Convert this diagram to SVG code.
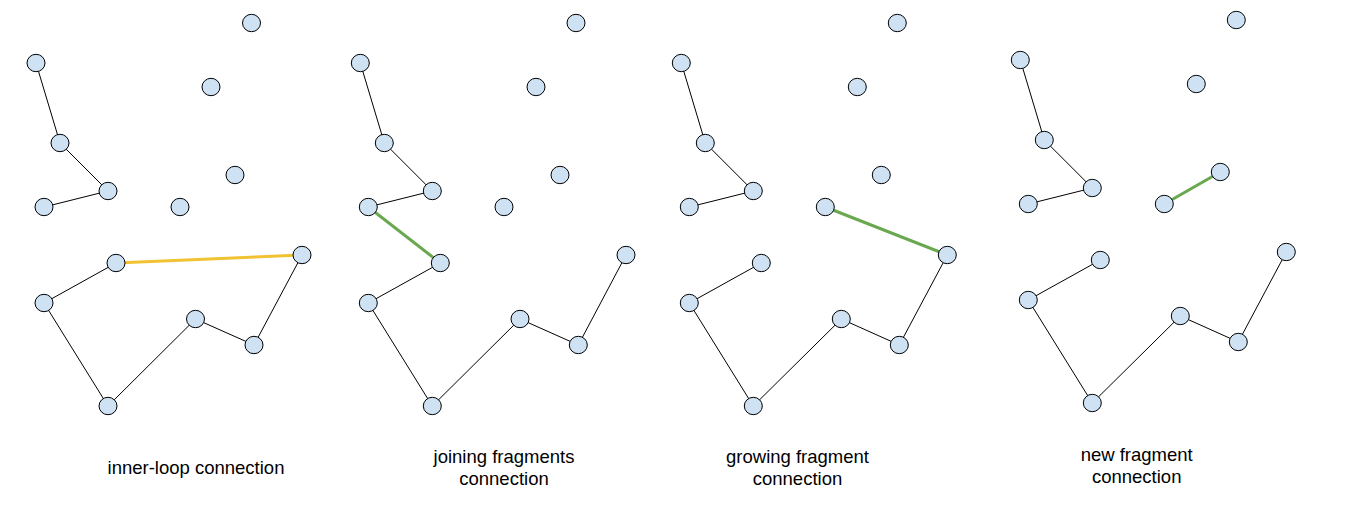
<svg xmlns="http://www.w3.org/2000/svg" width="1354" height="519" viewBox="0 0 1354 519">
<style>
.n{fill:#cfe2f3;stroke:#000;stroke-width:1}
.e{stroke:#000;stroke-width:1;fill:none}
.y{stroke:#f1c232;stroke-width:3;fill:none}
.g{stroke:#6aa84f;stroke-width:3;fill:none}
.t{font-family:"Liberation Sans",Arial,sans-serif;font-size:18.5px;fill:#000;text-anchor:middle}
</style>
<rect width="1354" height="519" fill="#fff"/>
<g id="connectors">
<!-- panel 1 -->
<line class="e" x1="36" y1="63" x2="60" y2="143"/>
<line class="e" x1="60" y1="143" x2="108" y2="191"/>
<line class="e" x1="108" y1="191" x2="44" y2="207"/>
<line class="e" x1="116" y1="263" x2="44" y2="303"/>
<line class="e" x1="44" y1="303" x2="108" y2="406"/>
<line class="e" x1="108" y1="406" x2="195.5" y2="319"/>
<line class="e" x1="195.5" y1="319" x2="254" y2="345"/>
<line class="e" x1="254" y1="345" x2="302" y2="255"/>
<line class="y" x1="116" y1="263" x2="302" y2="255"/>
<!-- panel 2 -->
<line class="e" x1="360.3" y1="63" x2="384.3" y2="143"/>
<line class="e" x1="384.3" y1="143" x2="432.3" y2="191"/>
<line class="e" x1="432.3" y1="191" x2="368.3" y2="207"/>
<line class="e" x1="440.3" y1="263" x2="368.3" y2="303"/>
<line class="e" x1="368.3" y1="303" x2="432.3" y2="406"/>
<line class="e" x1="432.3" y1="406" x2="520" y2="319"/>
<line class="e" x1="520" y1="319" x2="578.3" y2="345"/>
<line class="e" x1="578.3" y1="345" x2="626" y2="255"/>
<line class="g" x1="368.3" y1="207" x2="440.3" y2="263"/>
<!-- panel 3 -->
<line class="e" x1="681.3" y1="63" x2="705.3" y2="143"/>
<line class="e" x1="705.3" y1="143" x2="753.3" y2="191"/>
<line class="e" x1="753.3" y1="191" x2="689.3" y2="207"/>
<line class="e" x1="761.3" y1="263" x2="689.3" y2="303"/>
<line class="e" x1="689.3" y1="303" x2="753.3" y2="406"/>
<line class="e" x1="753.3" y1="406" x2="841.3" y2="319"/>
<line class="e" x1="841.3" y1="319" x2="899.3" y2="345"/>
<line class="e" x1="899.3" y1="345" x2="947.3" y2="255"/>
<line class="g" x1="825.3" y1="207" x2="947.3" y2="255"/>
<!-- panel 4 -->
<line class="e" x1="1020.3" y1="60" x2="1044.3" y2="140"/>
<line class="e" x1="1044.3" y1="140" x2="1092.3" y2="188"/>
<line class="e" x1="1092.3" y1="188" x2="1028.3" y2="204"/>
<line class="e" x1="1100.3" y1="260" x2="1028.3" y2="300"/>
<line class="e" x1="1028.3" y1="300" x2="1092.3" y2="403"/>
<line class="e" x1="1092.3" y1="403" x2="1180.3" y2="316"/>
<line class="e" x1="1180.3" y1="316" x2="1238.3" y2="342"/>
<line class="e" x1="1238.3" y1="342" x2="1286.3" y2="252"/>
<line class="g" x1="1164.3" y1="204" x2="1220.3" y2="172"/>
</g>
<!-- panel 1 nodes -->
<g id="p1-a"><ellipse class="n" cx="251.5" cy="23" rx="9" ry="8.7"/></g>
<g id="p1-b"><ellipse class="n" cx="36" cy="63" rx="9" ry="8.7"/></g>
<g id="p1-c"><ellipse class="n" cx="211" cy="87" rx="9" ry="8.7"/></g>
<g id="p1-d"><ellipse class="n" cx="60" cy="143" rx="9" ry="8.7"/></g>
<g id="p1-e"><ellipse class="n" cx="235" cy="175" rx="9" ry="8.7"/></g>
<g id="p1-f"><ellipse class="n" cx="108" cy="191" rx="9" ry="8.7"/></g>
<g id="p1-g"><ellipse class="n" cx="44" cy="207" rx="9" ry="8.7"/></g>
<g id="p1-h"><ellipse class="n" cx="180" cy="207" rx="9" ry="8.7"/></g>
<g id="p1-i"><ellipse class="n" cx="116" cy="263" rx="9" ry="8.7"/></g>
<g id="p1-j"><ellipse class="n" cx="302" cy="255" rx="9" ry="8.7"/></g>
<g id="p1-k"><ellipse class="n" cx="44" cy="303" rx="9" ry="8.7"/></g>
<g id="p1-l"><ellipse class="n" cx="195.5" cy="319" rx="9" ry="8.7"/></g>
<g id="p1-m"><ellipse class="n" cx="254" cy="345" rx="9" ry="8.7"/></g>
<g id="p1-n"><ellipse class="n" cx="108" cy="406" rx="9" ry="8.7"/></g>
<g id="p1-label"><text class="t" x="196" y="474">inner-loop connection</text></g>
<!-- panel 2 nodes -->
<g id="p2-a"><ellipse class="n" cx="576" cy="23" rx="9" ry="8.7"/></g>
<g id="p2-b"><ellipse class="n" cx="360.3" cy="63" rx="9" ry="8.7"/></g>
<g id="p2-c"><ellipse class="n" cx="536" cy="87" rx="9" ry="8.7"/></g>
<g id="p2-d"><ellipse class="n" cx="384.3" cy="143" rx="9" ry="8.7"/></g>
<g id="p2-e"><ellipse class="n" cx="560" cy="175" rx="9" ry="8.7"/></g>
<g id="p2-f"><ellipse class="n" cx="432.3" cy="191" rx="9" ry="8.7"/></g>
<g id="p2-g"><ellipse class="n" cx="368.3" cy="207" rx="9" ry="8.7"/></g>
<g id="p2-h"><ellipse class="n" cx="504" cy="207" rx="9" ry="8.7"/></g>
<g id="p2-i"><ellipse class="n" cx="440.3" cy="263" rx="9" ry="8.7"/></g>
<g id="p2-j"><ellipse class="n" cx="626" cy="255" rx="9" ry="8.7"/></g>
<g id="p2-k"><ellipse class="n" cx="368.3" cy="303" rx="9" ry="8.7"/></g>
<g id="p2-l"><ellipse class="n" cx="520" cy="319" rx="9" ry="8.7"/></g>
<g id="p2-m"><ellipse class="n" cx="578.3" cy="345" rx="9" ry="8.7"/></g>
<g id="p2-n"><ellipse class="n" cx="432.3" cy="406" rx="9" ry="8.7"/></g>
<g id="p2-label"><text class="t" x="504" y="463">joining fragments</text><text class="t" x="504" y="485">connection</text></g>
<!-- panel 3 nodes -->
<g id="p3-a"><ellipse class="n" cx="897.3" cy="23" rx="9" ry="8.7"/></g>
<g id="p3-b"><ellipse class="n" cx="681.3" cy="63" rx="9" ry="8.7"/></g>
<g id="p3-c"><ellipse class="n" cx="857.3" cy="87" rx="9" ry="8.7"/></g>
<g id="p3-d"><ellipse class="n" cx="705.3" cy="143" rx="9" ry="8.7"/></g>
<g id="p3-e"><ellipse class="n" cx="881.3" cy="175" rx="9" ry="8.7"/></g>
<g id="p3-f"><ellipse class="n" cx="753.3" cy="191" rx="9" ry="8.7"/></g>
<g id="p3-g"><ellipse class="n" cx="689.3" cy="207" rx="9" ry="8.7"/></g>
<g id="p3-h"><ellipse class="n" cx="825.3" cy="207" rx="9" ry="8.7"/></g>
<g id="p3-i"><ellipse class="n" cx="761.3" cy="263" rx="9" ry="8.7"/></g>
<g id="p3-j"><ellipse class="n" cx="947.3" cy="255" rx="9" ry="8.7"/></g>
<g id="p3-k"><ellipse class="n" cx="689.3" cy="303" rx="9" ry="8.7"/></g>
<g id="p3-l"><ellipse class="n" cx="841.3" cy="319" rx="9" ry="8.7"/></g>
<g id="p3-m"><ellipse class="n" cx="899.3" cy="345" rx="9" ry="8.7"/></g>
<g id="p3-n"><ellipse class="n" cx="753.3" cy="406" rx="9" ry="8.7"/></g>
<g id="p3-label"><text class="t" x="797.5" y="463">growing fragment</text><text class="t" x="797.5" y="485">connection</text></g>
<!-- panel 4 nodes -->
<g id="p4-a"><ellipse class="n" cx="1236.3" cy="20" rx="9" ry="8.7"/></g>
<g id="p4-b"><ellipse class="n" cx="1020.3" cy="60" rx="9" ry="8.7"/></g>
<g id="p4-c"><ellipse class="n" cx="1196.3" cy="84" rx="9" ry="8.7"/></g>
<g id="p4-d"><ellipse class="n" cx="1044.3" cy="140" rx="9" ry="8.7"/></g>
<g id="p4-e"><ellipse class="n" cx="1220.3" cy="172" rx="9" ry="8.7"/></g>
<g id="p4-f"><ellipse class="n" cx="1092.3" cy="188" rx="9" ry="8.7"/></g>
<g id="p4-g"><ellipse class="n" cx="1028.3" cy="204" rx="9" ry="8.7"/></g>
<g id="p4-h"><ellipse class="n" cx="1164.3" cy="204" rx="9" ry="8.7"/></g>
<g id="p4-i"><ellipse class="n" cx="1100.3" cy="260" rx="9" ry="8.7"/></g>
<g id="p4-j"><ellipse class="n" cx="1286.3" cy="252" rx="9" ry="8.7"/></g>
<g id="p4-k"><ellipse class="n" cx="1028.3" cy="300" rx="9" ry="8.7"/></g>
<g id="p4-l"><ellipse class="n" cx="1180.3" cy="316" rx="9" ry="8.7"/></g>
<g id="p4-m"><ellipse class="n" cx="1238.3" cy="342" rx="9" ry="8.7"/></g>
<g id="p4-n"><ellipse class="n" cx="1092.3" cy="403" rx="9" ry="8.7"/></g>
<g id="p4-label"><text class="t" x="1136.7" y="461">new fragment</text><text class="t" x="1136.7" y="483">connection</text></g>
</svg>
